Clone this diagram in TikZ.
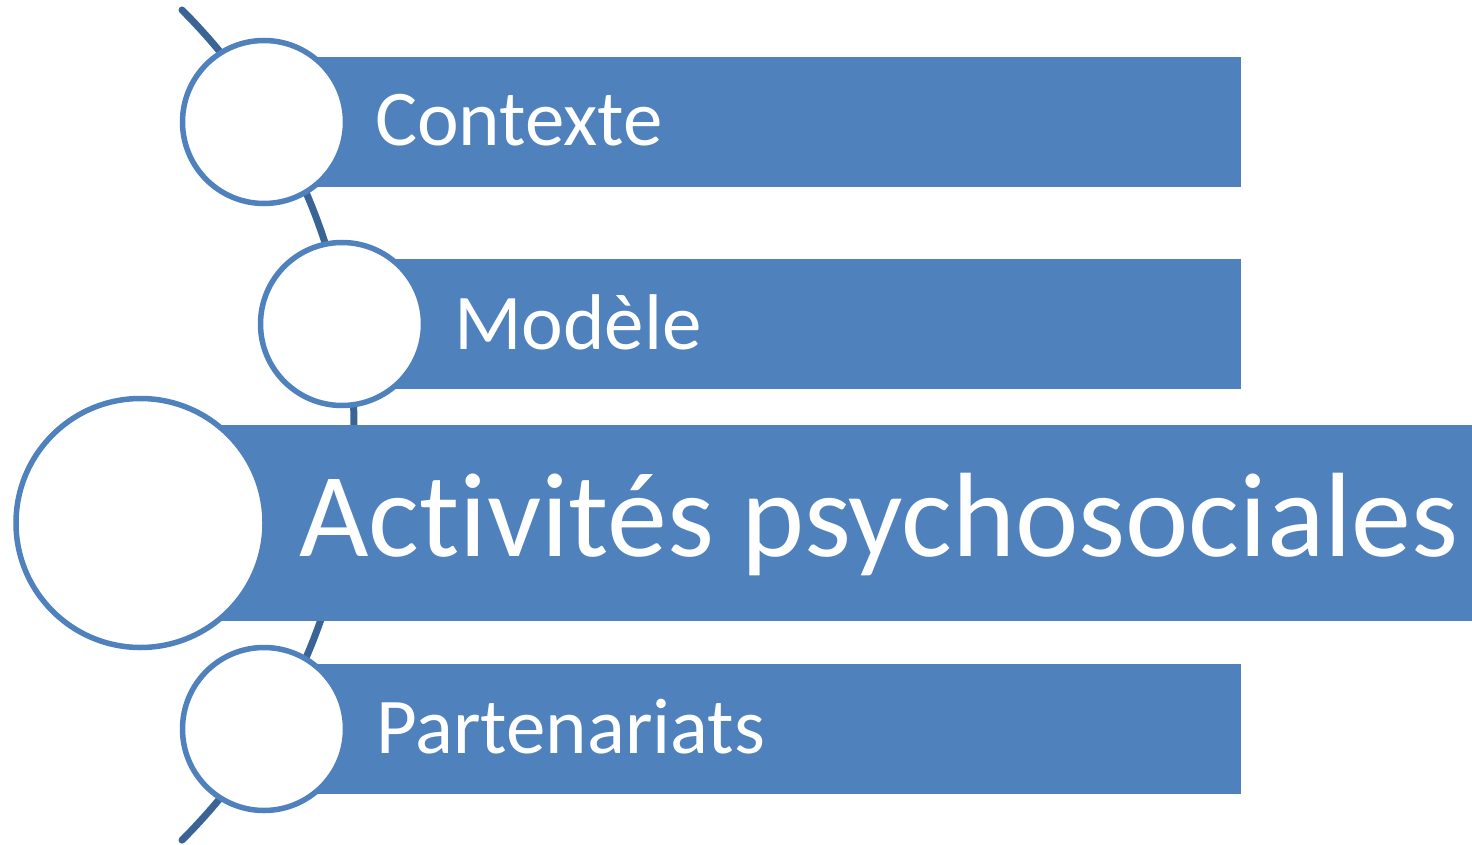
\documentclass[tikz,border=0pt]{standalone}
\usepackage{fontspec}
\setmainfont{Carlito}[Ligatures=NoCommon]
\usepackage{tikz}
\usetikzlibrary{positioning}
\definecolor{barblue}{HTML}{4F81BD}
\definecolor{spineblue}{HTML}{3A6496}
\tikzstyle{bar} = [rectangle, fill=barblue, anchor=west, inner sep=0pt, minimum height=130pt]
\tikzstyle{bubble} = [circle, draw=barblue, line width=5.5pt, fill=white, inner sep=0pt, minimum size=163pt]
\tikzstyle{spine} = [line width=7pt, draw=spineblue, line cap=round]

\begin{document}
\begin{tikzpicture}[x=1pt, y=-1pt]

\tikzstyle{smalltext} = [text=white, anchor=base west, inner sep=0pt, font=\fontsize{79}{95}\selectfont]
\tikzstyle{bigtext} = [smalltext, font=\fontsize{120}{144}\selectfont]

\useasboundingbox (0,0) rectangle (1472,845);

% Spine
\coordinate (spinetop) at (182,10);
\draw [spine] (spinetop) arc[start angle=45, end angle=-45, radius=587pt];

% Bars
\node (contextbar) [bar, minimum width=977pt] at (264,122) {};
\node (modelbar) [bar, minimum width=899pt] at (342,324) {};
\node (mainbar) [bar, minimum width=1332pt, minimum height=196pt] at (140,522.5) {};
\node (partnerbar) [bar, minimum width=977pt] at (264,729) {};

% Circles
\node (contextdot) [bubble] at (264,122) {};
\node (modeldot) [bubble] at (342,324) {};
\node (maindot) [bubble, minimum size=249pt] at (140.5,523) {};
\node (partnerdot) [bubble] at (264,729) {};

% Labels
\node (contextlabel) [smalltext] at (375,145.5) {Contexte};
\node (modellabel) [smalltext] at (454,349) {Modèle};
\node (mainlabel) [bigtext] at (299,556) {Activités psychosoc\kern0pt iales};
\node (partnerlabel) [smalltext] at (376,753) {Partenariats};

\end{tikzpicture}
\end{document}
